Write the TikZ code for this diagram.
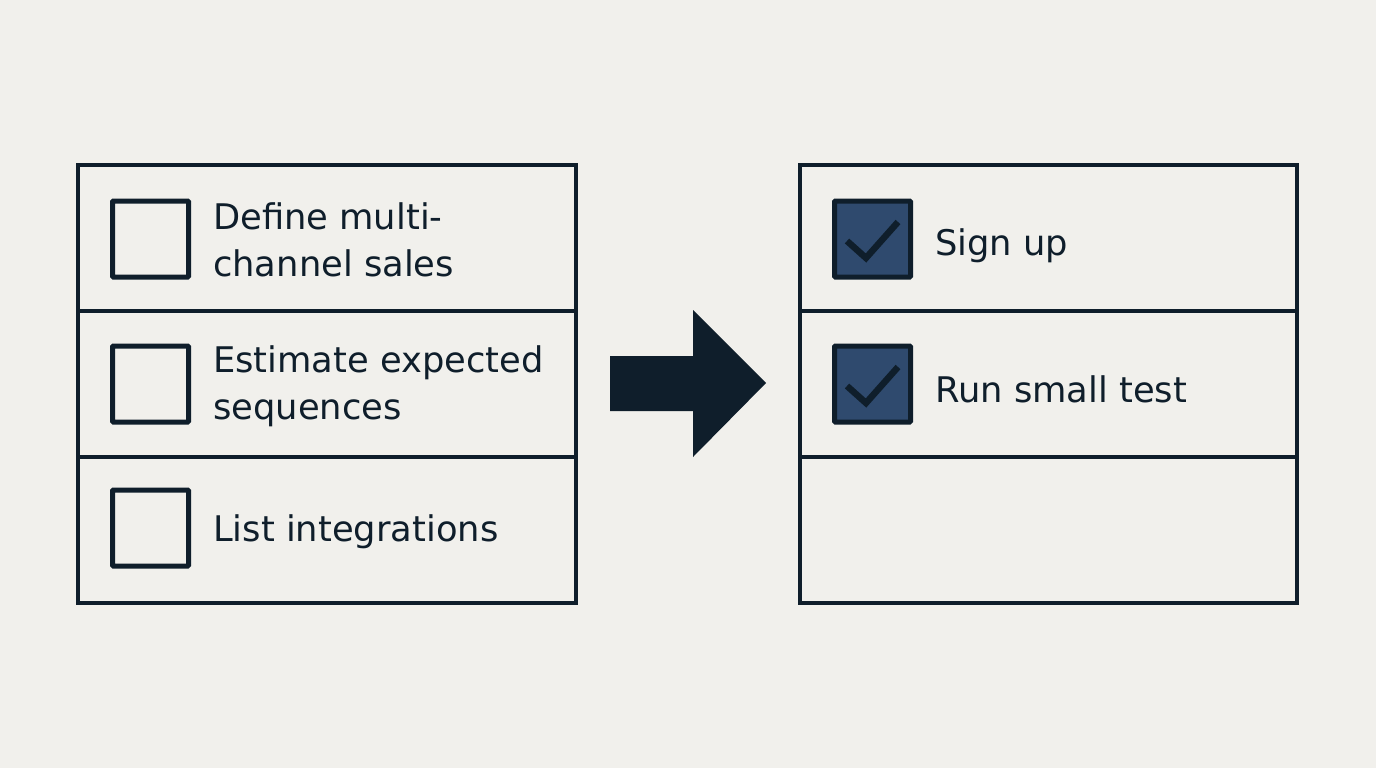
\documentclass[tikz,border=0pt]{standalone}
\usepackage{fontspec}
\setmainfont{DejaVu Sans}
\definecolor{bg}{HTML}{F1F0EC}
\definecolor{ink}{HTML}{0F1E2B}
\definecolor{done}{HTML}{2F4A6E}
\begin{document}
\begin{tikzpicture}[x=1pt,y=-1pt,
  panel/.style={draw=ink,line width=4pt,fill=bg},
  divider/.style={draw=ink,line width=4pt},
  cbox/.style={draw=ink,line width=5pt,minimum width=76pt,minimum height=76pt,inner sep=0pt,rounded corners=1pt},
  cboxdone/.style={cbox,fill=done},
  tick/.style={draw=ink,line width=6.5pt},
  label/.style={anchor=west,align=left,font=\fontsize{35.3}{47}\selectfont,text=ink,inner sep=0pt}]
\fill[bg] (0,0) rectangle (1376,768);
\useasboundingbox (0,0) rectangle (1376,768);
% left panel
\draw[panel] (78,165) rectangle (576,603);
\draw[divider] (78,311) -- (576,311);
\draw[divider] (78,457) -- (576,457);
\node[cbox] (c1) at (150.5,239) {};
\node[cbox] (c2) at (150.5,384) {};
\node[cbox] (c3) at (150.5,528) {};
\node[label] (t1) at (213,240) {Define multi-\\channel sales};
\node[label] (t2) at (213,386) {Estimate expected\\sequences};
\node[label] (t3) at (213,532) {List integrations};
% arrow
\fill[ink] (610,356) -- (693,356) -- (693,310) -- (766,383) -- (693,457) -- (693,411) -- (610,411) -- cycle;
% right panel
\draw[panel] (800,165) rectangle (1297,603);
\draw[divider] (800,311) -- (1297,311);
\draw[divider] (800,457) -- (1297,457);
\node[cboxdone] (d1) at (872.5,239) {};
\node[cboxdone] (d2) at (872.5,384) {};
\draw[tick] (847,241) -- (866,258) -- (898,222);
\draw[tick] (847,386) -- (866,403) -- (898,367);
\node[label] (s1) at (935,246) {Sign up};
\node[label] (s2) at (935,389) {Run small test};
\end{tikzpicture}
\end{document}
